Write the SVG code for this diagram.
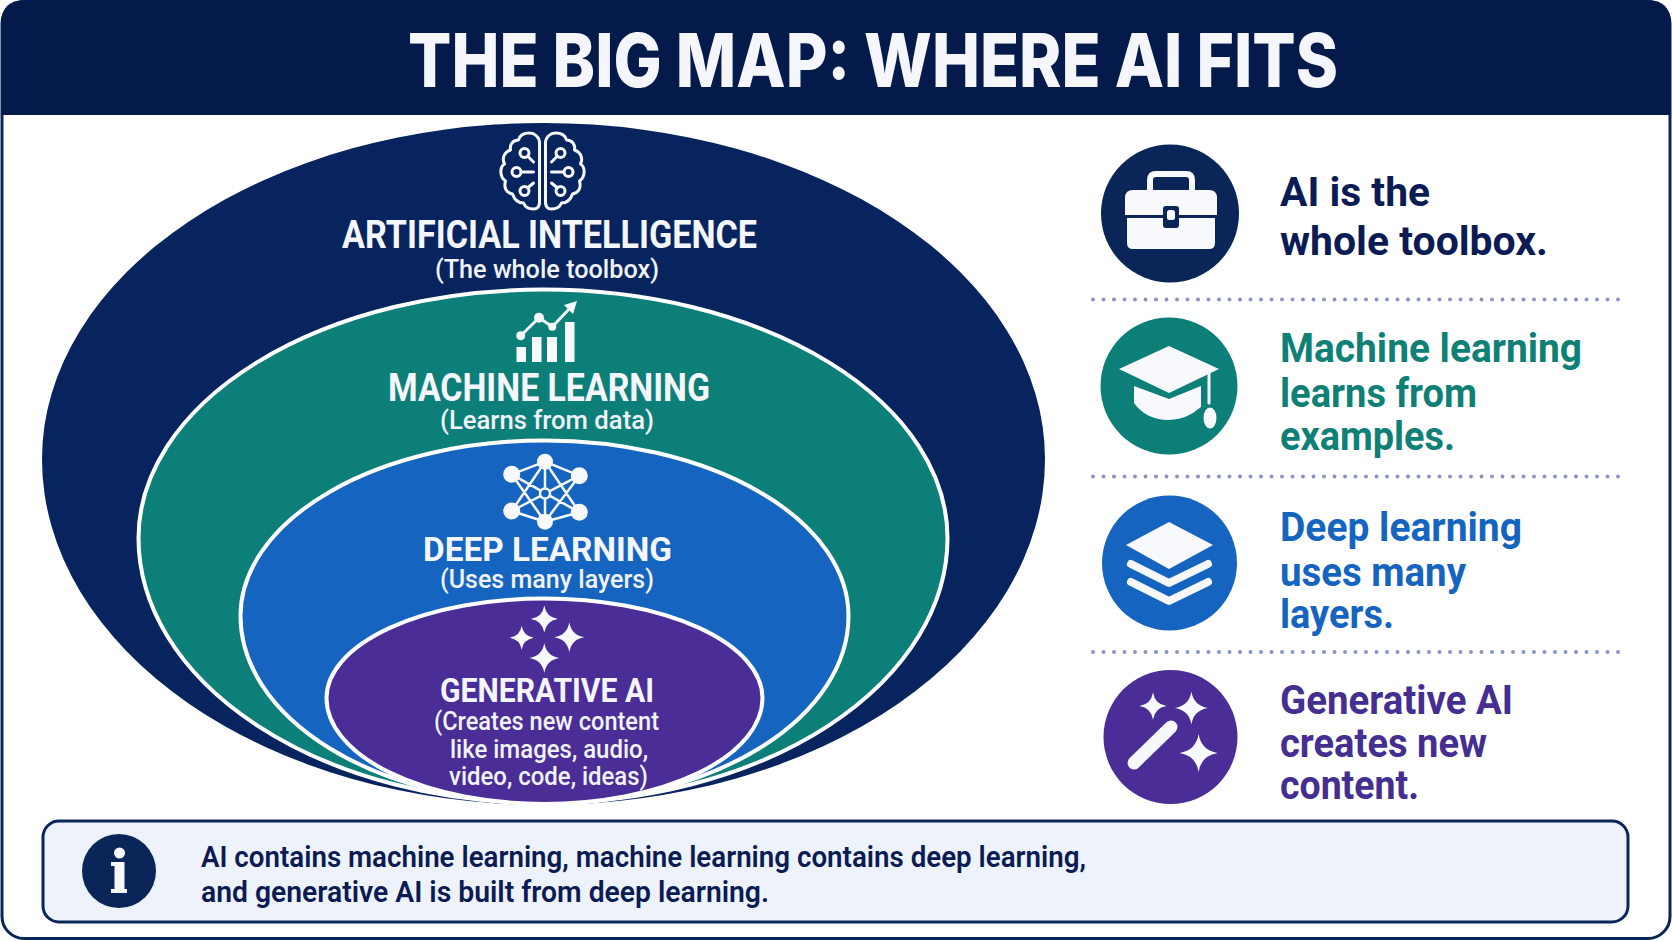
<svg xmlns="http://www.w3.org/2000/svg" xmlns:xlink="http://www.w3.org/1999/xlink" width="1672" height="941" viewBox="0 0 1672 941">
<style>
text{font-family:Roboto,"Liberation Sans",sans-serif}
.head{font-weight:700;fill:#f4f6fb}
.title{font-family:Inter,Roboto,"Liberation Sans",sans-serif;font-weight:800;fill:#f4f6fb}
.sub{font-weight:500;fill:#f1f3fa;font-size:25px}
.side{font-weight:700;font-size:41px}
.note{font-weight:600;font-size:30px;fill:#0b1b54}
.ring{stroke:#fff;stroke-width:4}
.ln{fill:none;stroke:#f6f8fc;stroke-linecap:round;stroke-linejoin:round}
.w{fill:#f8f9fd}
.dots{fill:none;stroke:#8a92c8;stroke-width:4;stroke-linecap:round;stroke-dasharray:0 10.5}
</style>
<defs>
<path id="star" d="M0-1Q.14-.14 1 0Q.14 .14 0 1Q-.14 .14-1 0Q-.14-.14 0-1Z"/>
<g id="lobe">
<path class="ln" stroke-width="3" d="M-3 204L-3 143C-3 137-8 133-13 133C-19 133-23 136-24 140C-30 140-33 145-32 150C-38 152-41 158-38 164C-43 167-43 177-37 181C-39 188-36 193-30 194C-28 200-24 203-19 203C-17 208-12 209-9 209C-5 209-3 207-3 202"/>
<circle class="ln" stroke-width="3" cx="-18" cy="153" r="4.500"/>
<path class="ln" stroke-width="3" d="M-15 156L-9 162"/>
<circle class="ln" stroke-width="3" cx="-26" cy="172" r="4.500"/>
<path class="ln" stroke-width="3" d="M-21 172L-9 172"/>
<circle class="ln" stroke-width="3" cx="-18" cy="191" r="4.500"/>
<path class="ln" stroke-width="3" d="M-15 188L-9 183"/>
</g>
</defs>
<rect width="1672" height="941" fill="#fff"/>
<g id="frame">
<rect x="2" y="1.500" width="1668" height="937" rx="22" fill="#fff" stroke="#0a2558" stroke-width="3"/>
<path d="M1 115V24Q1 0 25 0H1647Q1671 0 1671 24V115Z" fill="#041a4a"/>
<text class="title" x="408" y="87" font-size="74" textLength="930" lengthAdjust="spacingAndGlyphs">THE BIG MAP: WHERE AI FITS</text>
</g>
<g id="node-ai">
<path d="M42 459A501.500 336 0 0 1 1045 459A501.500 346 0 0 1 42 459Z" fill="#07245f"/>
<g transform="translate(542.500 0)"><use xlink:href="#lobe" href="#lobe"/><use xlink:href="#lobe" href="#lobe" transform="scale(-1 1)"/></g>
<text class="head" x="342" y="248" font-size="38" textLength="415" lengthAdjust="spacingAndGlyphs">ARTIFICIAL INTELLIGENCE</text>
<text class="sub" x="435" y="277.500" textLength="224" lengthAdjust="spacingAndGlyphs">(The whole toolbox)</text>
</g>
<g id="node-ml">
<path class="ring" d="M138.500 538A404.500 248.500 0 0 1 947.500 538A404.500 265 0 0 1 138.500 538Z" fill="#0c7f78"/>
<g class="w">
<rect x="516.500" y="347" width="9.500" height="15"/><rect x="532" y="337" width="9.500" height="25"/><rect x="547" y="337" width="10" height="25"/><rect x="565" y="322" width="9.500" height="40"/>
<circle cx="520.700" cy="335.700" r="4.500"/><circle cx="539" cy="317.700" r="5"/><circle cx="552.300" cy="326.700" r="4"/>
<path class="ln" stroke-width="3" d="M520.700 335.700L539 317.700L552.300 326.700L571 307"/>
<path d="M577 301L564 305L573 314Z"/>
</g>
<text class="head" x="388" y="400.500" font-size="38" textLength="322" lengthAdjust="spacingAndGlyphs">MACHINE LEARNING</text>
<text class="sub" x="440" y="429" textLength="214" lengthAdjust="spacingAndGlyphs">(Learns from data)</text>
</g>
<g id="node-dl">
<path class="ring" d="M240.500 616A304 175.500 0 0 1 848.500 616A304 187 0 0 1 240.500 616Z" fill="#1565c0"/>
<path class="ln" stroke-width="2.500" d="M545 461.700L511.700 474.300M545 461.700L579.300 475.700M545 521.700L511.700 511M545 521.700L579.300 512.300M545 461.700V521.700M511.700 474.300L579.300 512.300M579.300 475.700L511.700 511M511.700 474.300L545 521.700M579.300 475.700L545 521.700M511.700 511L545 461.700M579.300 512.300L545 461.700"/>
<g class="w">
<circle cx="545" cy="461.700" r="8"/><circle cx="511.700" cy="474.300" r="8.500"/><circle cx="579.300" cy="475.700" r="8.500"/><circle cx="511.700" cy="511" r="8.500"/><circle cx="579.300" cy="512.300" r="8.500"/><circle cx="545" cy="521.700" r="8"/>
</g>
<circle cx="545" cy="493.500" r="5" fill="#1565c0" stroke="#f6f8fc" stroke-width="2.500"/>
<text class="head" x="423" y="561" font-size="34" textLength="249" lengthAdjust="spacingAndGlyphs">DEEP LEARNING</text>
<text class="sub" x="440" y="588" textLength="214" lengthAdjust="spacingAndGlyphs">(Uses many layers)</text>
</g>
<g id="node-gen">
<path class="ring" d="M326.500 698A218 99.500 0 0 1 762.500 698A218 106 0 0 1 326.500 698Z" fill="#4a2d96"/>
<g class="w">
<use href="#star" xlink:href="#star" transform="translate(544.300 619) scale(13.500)"/>
<use href="#star" xlink:href="#star" transform="translate(521.700 637.700) scale(12)"/>
<use href="#star" xlink:href="#star" transform="translate(569.300 637.300) scale(15)"/>
<use href="#star" xlink:href="#star" transform="translate(544.300 658) scale(15)"/>
</g>
<text class="head" x="440" y="702" font-size="33" textLength="214" lengthAdjust="spacingAndGlyphs">GENERATIVE AI</text>
<text class="sub" x="434" y="730" textLength="225" lengthAdjust="spacingAndGlyphs">(Creates new content</text>
<text class="sub" x="450" y="757.500" textLength="198" lengthAdjust="spacingAndGlyphs">like images, audio,</text>
<text class="sub" x="449" y="784.500" textLength="199" lengthAdjust="spacingAndGlyphs">video, code, ideas)</text>
</g>
<g id="connectors">
<path class="dots" d="M1093 299.500H1620M1093 476.500H1620M1093 652H1620"/>
</g>
<g id="item-toolbox">
<circle cx="1170" cy="213.500" r="69" fill="#0a2558"/>
<path d="M1150 190V180Q1150 174 1156 174H1186Q1192 174 1192 180V190" fill="none" stroke="#f8f9fd" stroke-width="6"/>
<path class="w" d="M1125 215V198Q1125 190 1133 190H1209Q1217 190 1217 198V215Z"/>
<path class="w" d="M1127 218H1215V243Q1215 249 1209 249H1133Q1127 249 1127 243Z"/>
<rect x="1163" y="206" width="16" height="22" rx="3" fill="#0a2558"/>
<rect x="1167" y="210" width="8" height="10" rx="2.500" fill="#f8f9fd"/>
<text class="side" x="1280" y="206" fill="#0b1b54" textLength="150" lengthAdjust="spacingAndGlyphs">AI is the</text>
<text class="side" x="1280" y="254.500" fill="#0b1b54" textLength="268" lengthAdjust="spacingAndGlyphs">whole toolbox.</text>
</g>
<g id="item-ml">
<circle cx="1169" cy="386" r="68.500" fill="#0c7f78"/>
<path class="w" d="M1169 346L1219 369L1169 393L1119 369Z"/>
<path class="w" d="M1134 386L1169 399L1201 386V407Q1186 420 1169 420Q1146 420 1134 403Z"/>
<path class="ln" stroke-width="3" d="M1209 373V403"/>
<ellipse class="w" cx="1210" cy="418" rx="6.500" ry="10.500"/>
<text class="side" x="1280" y="362" fill="#0e8076" textLength="302" lengthAdjust="spacingAndGlyphs">Machine learning</text>
<text class="side" x="1280" y="407" fill="#0e8076" textLength="197" lengthAdjust="spacingAndGlyphs">learns from</text>
<text class="side" x="1280" y="449.500" fill="#0e8076" textLength="175" lengthAdjust="spacingAndGlyphs">examples.</text>
</g>
<g id="item-dl">
<circle cx="1169.500" cy="563" r="67.500" fill="#1565c0"/>
<path class="w" d="M1169 522L1213 545L1169 569L1126 545Z"/>
<path class="ln" stroke-width="8" d="M1131 564L1169 583L1208 564M1131 582L1169 601L1208 582"/>
<text class="side" x="1280" y="541" fill="#1565c0" textLength="242" lengthAdjust="spacingAndGlyphs">Deep learning</text>
<text class="side" x="1280" y="585.500" fill="#1565c0" textLength="186" lengthAdjust="spacingAndGlyphs">uses many</text>
<text class="side" x="1280" y="628" fill="#1565c0" textLength="114" lengthAdjust="spacingAndGlyphs">layers.</text>
</g>
<g id="item-gen">
<circle cx="1170.500" cy="737" r="67" fill="#4a2d96"/>
<path class="ln" stroke-width="13" d="M1134 763L1171 727"/>
<g class="w">
<use href="#star" xlink:href="#star" transform="translate(1153 706) scale(13.500)"/>
<use href="#star" xlink:href="#star" transform="translate(1191.400 708) scale(16.500)"/>
<use href="#star" xlink:href="#star" transform="translate(1198.600 753) scale(19)"/>
</g>
<text class="side" x="1280" y="714" fill="#452e91" textLength="233" lengthAdjust="spacingAndGlyphs">Generative AI</text>
<text class="side" x="1280" y="756.500" fill="#452e91" textLength="207" lengthAdjust="spacingAndGlyphs">creates new</text>
<text class="side" x="1280" y="799" fill="#452e91" textLength="139" lengthAdjust="spacingAndGlyphs">content.</text>
</g>
<g id="note">
<rect x="43" y="821" width="1585" height="101" rx="16" fill="#eef3fb" stroke="#0a2558" stroke-width="3"/>
<circle cx="119" cy="871" r="37" fill="#0a2558"/>
<circle cx="119.500" cy="853" r="5.500" fill="#f8f9fd"/>
<path fill="#f8f9fd" d="M111 862H124.500V889H127V893H111V889H114.500V866H111Z"/>
<text class="note" x="201" y="867" textLength="885" lengthAdjust="spacingAndGlyphs">AI contains machine learning, machine learning contains deep learning,</text>
<text class="note" x="201" y="902" textLength="568" lengthAdjust="spacingAndGlyphs">and generative AI is built from deep learning.</text>
</g>
</svg>
